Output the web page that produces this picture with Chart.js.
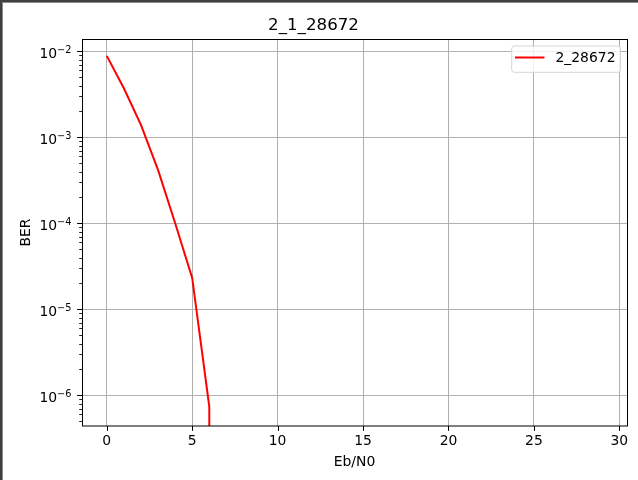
<!DOCTYPE html>
<html>
<head>
<meta charset="utf-8">
<style>
html,body{margin:0;padding:0;background:#fff;overflow:hidden}
canvas{display:block}
</style>
<script src="https://cdn.jsdelivr.net/npm/chart.js@4.4.1/dist/chart.umd.min.js"></script>
</head>
<body>
<canvas id="c" width="638" height="480"></canvas>
<script>
// ---- data ----
const titleText = '2_1_28672';
const seriesName = '2_28672';
const xLabel = 'Eb/N0';
const yLabel = 'BER';
const ebn0 = [0,1,2,3,4,5,6,7,8,9,10,11,12,13,14,15,16,17,18,19,20,21,22,23,24,25,26,27,28,29];
const ber  = [8.87e-3,3.73e-3,1.40e-3,4.19e-4,1.01e-4,2.32e-5,7.4e-7,0,0,0,0,0,0,0,0,0,0,0,0,0,0,0,0,0,0,0,0,0,0,0];
const xTicks = [0,5,10,15,20,25,30];
const yExponents = [-7,-6,-5,-4,-3,-2];
const xRange = [-1.45, 30.45];
const yRange = [4.39e-7, 1.394e-2];

// ---- helpers ----
const yTickObjs = [];
yExponents.forEach(e => {
  for (let m = 1; m <= 9; m++) {
    const v = Number(m + 'e' + e);
    if (v >= yRange[0] && v <= yRange[1]) yTickObjs.push({value: v, isMajor: m === 1, exp: e});
  }
});
const points = ebn0.map((x, i) => ({x: x, y: ber[i] > 0 ? ber[i] : 1e-300})); // non-positive clipped like a log plot

const FONT = 'DejaVu Sans';
Chart.defaults.font.family = FONT;
Chart.defaults.color = '#000';

const decor = {
  id: 'decor',
  beforeDraw(chart) {
    const c = chart.ctx;
    c.save();
    c.fillStyle = '#fff';
    c.fillRect(0, 0, chart.width, chart.height);
    c.restore();
  },
  afterDraw(chart) {
    const c = chart.ctx, a = chart.chartArea;
    const xs = chart.scales.x, ys = chart.scales.y;
    c.save();
    // tick marks
    c.strokeStyle = '#000';
    c.lineWidth = 1;
    xs.ticks.forEach(t => {
      const px = Math.round(xs.getPixelForValue(t.value)) + 0.5;
      c.beginPath(); c.moveTo(px, a.bottom); c.lineTo(px, a.bottom + 4.9); c.stroke();
    });
    ys.ticks.forEach(t => {
      const py = Math.round(ys.getPixelForValue(t.value)) + 0.5;
      const len = t.isMajor ? 4.9 : 2.8;
      c.lineWidth = t.isMajor ? 1 : 0.85;
      c.beginPath(); c.moveTo(a.left, py); c.lineTo(a.left - len, py); c.stroke();
    });
    // y tick labels: 10 with raised exponent
    c.fillStyle = '#000';
    c.textBaseline = 'alphabetic';
    c.textAlign = 'left';
    ys.ticks.forEach(t => {
      if (!t.isMajor) return;
      const py = ys.getPixelForValue(t.value);
      const expStr = '\u2212' + Math.abs(t.exp);
      c.font = '9.73px "' + FONT + '"';
      const w2 = c.measureText(expStr).width;
      c.font = '13.9px "' + FONT + '"';
      const w1 = c.measureText('10').width;
      const right = a.left - 10.6;
      c.fillText('10', right - w2 - w1, py + 6.6);
      c.font = '9.73px "' + FONT + '"';
      c.fillText(expStr, right - w2, py + 1.6);
    });
    // spines
    c.strokeStyle = '#000';
    c.lineWidth = 1;
    c.strokeRect(a.left + 0.5, a.top + 0.5, a.right - a.left, a.bottom - a.top - 0.5);
    // legend
    const ds = chart.data.datasets[0];
    const bx = 511.7, by = 46, bw = 108.8, bh = 26.3, r = 2.8;
    c.beginPath();
    c.moveTo(bx + r, by);
    c.lineTo(bx + bw - r, by); c.quadraticCurveTo(bx + bw, by, bx + bw, by + r);
    c.lineTo(bx + bw, by + bh - r); c.quadraticCurveTo(bx + bw, by + bh, bx + bw - r, by + bh);
    c.lineTo(bx + r, by + bh); c.quadraticCurveTo(bx, by + bh, bx, by + bh - r);
    c.lineTo(bx, by + r); c.quadraticCurveTo(bx, by, bx + r, by);
    c.closePath();
    c.fillStyle = 'rgba(255,255,255,0.8)';
    c.fill();
    c.strokeStyle = 'rgba(204,204,204,0.8)';
    c.lineWidth = 1;
    c.stroke();
    c.strokeStyle = ds.borderColor;
    c.lineWidth = 2;
    c.beginPath(); c.moveTo(515, 57.5); c.lineTo(544.5, 57.5); c.stroke();
    c.fillStyle = '#000';
    c.font = '13.9px "' + FONT + '"';
    c.textBaseline = 'middle';
    c.textAlign = 'left';
    c.fillText(ds.label, 555.5, 58);
    // window frame
    c.fillStyle = '#404040';
    c.fillRect(0, 0, chart.width, 2);
    c.fillRect(0, 0, 2, chart.height);
    c.fillStyle = '#8c8c8c';
    c.fillRect(2, 2, chart.width - 2, 1);
    c.fillRect(2, 2, 1, chart.height - 2);
    c.restore();
  }
};

new Chart(document.getElementById('c'), {
  type: 'line',
  data: {
    datasets: [{
      label: seriesName,
      data: points,
      borderColor: '#ff0000',
      backgroundColor: '#ff0000',
      borderWidth: 2,
      pointRadius: 0,
      tension: 0,
      fill: false
    }]
  },
  options: {
    responsive: false,
    animation: false,
    devicePixelRatio: 1,
    layout: {padding: {left: 0, right: 11, top: 0, bottom: 0}},
    plugins: {
      legend: {display: false},
      tooltip: {enabled: false},
      title: {
        display: true,
        text: titleText,
        font: {family: FONT, size: 16.67, weight: 'normal', lineHeight: '20px'},
        color: '#000',
        padding: {top: 16, bottom: 3}
      }
    },
    scales: {
      x: {
        type: 'linear',
        min: xRange[0],
        max: xRange[1],
        afterBuildTicks: s => { s.ticks = xTicks.map(v => ({value: v, isMajor: true})); },
        afterFit: s => { s.height = 54; },
        grid: {color: '#b0b0b0', lineWidth: 1, drawTicks: false},
        border: {display: false},
        ticks: {
          autoSkip: false, maxRotation: 0, padding: 7,
          font: {family: FONT, size: 13.9},
          color: '#000',
          callback: v => String(v)
        },
        title: {display: true, text: xLabel, font: {family: FONT, size: 13.9}, color: '#000', padding: {top: 0, bottom: 9.6}}
      },
      y: {
        type: 'logarithmic',
        min: yRange[0],
        max: yRange[1],
        afterBuildTicks: s => { s.ticks = yTickObjs.map(t => Object.assign({}, t)); },
        afterFit: s => { s.width = 82; },
        grid: {
          drawTicks: false,
          lineWidth: 1,
          color: ctx => (ctx.tick && ctx.tick.isMajor) ? '#b0b0b0' : 'rgba(0,0,0,0)'
        },
        border: {display: false},
        ticks: {
          display: false,
          autoSkip: false
        },
        title: {display: true, text: yLabel, font: {family: FONT, size: 13.9}, color: '#000', padding: {top: 17.6, bottom: 0}}
      }
    }
  },
  plugins: [decor]
});
</script>
</body>
</html>
